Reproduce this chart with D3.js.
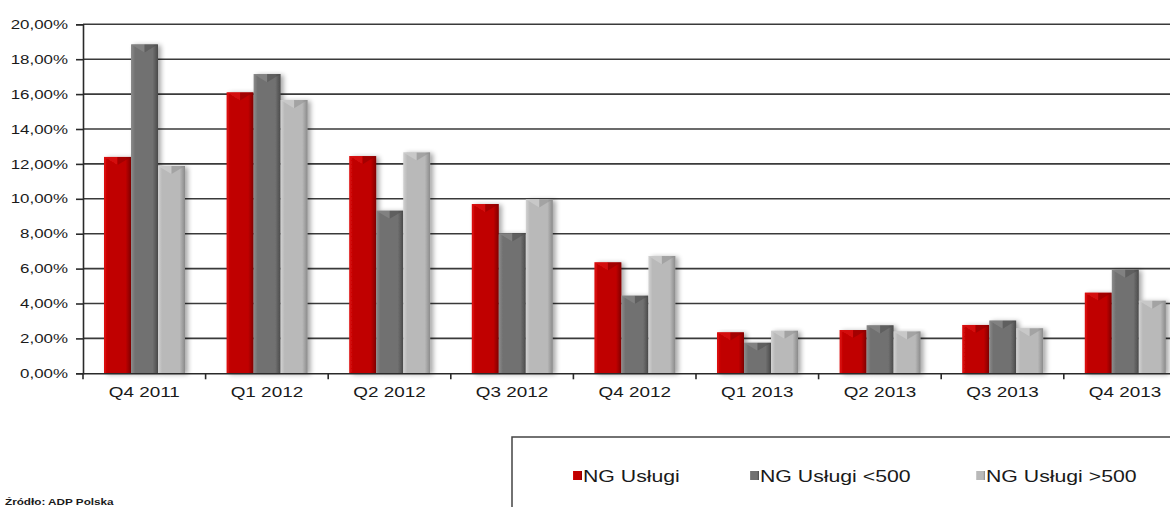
<html>
<head>
<meta charset="utf-8">
<script src="https://d3js.org/d3.v7.min.js"></script>
<style>
body { margin: 0; background: #fff; }
text { font-family: "Liberation Sans", Arial, sans-serif; fill: #1a1a1a; }
</style>
</head>
<body>
<svg width="1170" height="507"></svg>
<script>
// data
var categories = ["Q4 2011", "Q1 2012", "Q2 2012", "Q3 2012", "Q4 2012", "Q1 2013", "Q2 2013", "Q3 2013", "Q4 2013"];
var seriesNames = ["NG Usługi", "NG Usługi <500", "NG Usługi >500"];
var ngUslugi    = [12.4, 16.1, 12.45, 9.7, 6.36, 2.35, 2.48, 2.77, 4.62];
var ngUslugiLt  = [18.85, 17.15, 9.32, 8.02, 4.45, 1.75, 2.75, 3.02, 5.94];
var ngUslugiGt  = [11.88, 15.66, 12.66, 9.97, 6.72, 2.44, 2.4, 2.58, 4.16];
var yTicks = [0, 2, 4, 6, 8, 10, 12, 14, 16, 18, 20];

var allSeries = [ngUslugi, ngUslugiLt, ngUslugiGt];
var colors = [
  {mid: "#c00000", lt: "#e01010", dk: "#800000"},
  {mid: "#717171", lt: "#8c8c8c", dk: "#4a4a4a"},
  {mid: "#b9b9b9", lt: "#d2d2d2", dk: "#8a8a8a"}
];

// the source picture is stretched sideways, so widen text to match
function stretch(sel, k) {
  sel.each(function() {
    var w = this.getComputedTextLength();
    d3.select(this).attr("textLength", w * k).attr("lengthAdjust", "spacingAndGlyphs");
  });
}

var svg = d3.select("svg");
var defs = svg.append("defs");

// drop shadow for the bars
var f = defs.append("filter").attr("id", "shadow").attr("x", "-30%").attr("y", "-10%").attr("width", "170%").attr("height", "130%");
f.append("feGaussianBlur").attr("in", "SourceAlpha").attr("stdDeviation", 2.5);
f.append("feOffset").attr("dx", 3).attr("dy", 1).attr("result", "b");
f.append("feComponentTransfer").append("feFuncA").attr("type", "linear").attr("slope", 0.35);
var fm = f.append("feMerge");
fm.append("feMergeNode");
fm.append("feMergeNode").attr("in", "SourceGraphic");

colors.forEach(function(c, i) {
  var g = defs.append("linearGradient").attr("id", "grad" + i).attr("x1", 0).attr("x2", 1).attr("y1", 0).attr("y2", 0);
  g.append("stop").attr("offset", "0%").attr("stop-color", c.lt);
  g.append("stop").attr("offset", "15%").attr("stop-color", c.mid);
  g.append("stop").attr("offset", "80%").attr("stop-color", c.mid);
  g.append("stop").attr("offset", "100%").attr("stop-color", c.dk);
});

var x = d3.scaleBand().domain(categories).range([83, 83 + 9 * 122.6]);
var y = d3.scaleLinear().domain([0, 20]).range([373.3, 24.3]);
var sub = d3.scaleBand().domain([0, 1, 2]).range([21, 102]);

// gridlines
svg.append("g").selectAll("line").data(yTicks.slice(1)).join("line")
  .attr("x1", 83).attr("x2", 1170)
  .attr("y1", function(d) { return y(d); }).attr("y2", function(d) { return y(d); })
  .attr("stroke", "#3a3a3a").attr("stroke-width", 1.6);

// bars
var groups = svg.append("g").selectAll("g").data(categories).join("g")
  .attr("transform", function(d) { return "translate(" + x(d) + ",0)"; });

groups.each(function(cat, ci) {
  var g = d3.select(this);
  allSeries.forEach(function(vals, si) {
    var x0 = sub(si), w = sub.bandwidth(), top = y(vals[ci]), bot = y(0);
    var bar = g.append("g").attr("filter", "url(#shadow)");
    bar.append("rect").attr("x", x0).attr("y", top).attr("width", w).attr("height", bot - top)
      .attr("fill", "url(#grad" + si + ")");
    var bev = Math.min(w / 2, bot - top);
    bar.append("path")
      .attr("d", "M" + x0 + "," + top + "L" + (x0 + w / 2) + "," + (top + bev * 0.6) + "L" + (x0 + w / 2) + "," + top + "Z")
      .attr("fill", colors[si].lt).attr("opacity", 0.6);
    bar.append("path")
      .attr("d", "M" + (x0 + w / 2) + "," + (top + bev * 0.6) + "L" + (x0 + w) + "," + top + "L" + (x0 + w / 2) + "," + top + "Z")
      .attr("fill", colors[si].dk).attr("opacity", 0.45);
  });
});

// y axis
var yAxis = svg.append("g").attr("transform", "translate(83,0)")
  .call(d3.axisLeft(y).tickValues(yTicks).tickSize(7).tickPadding(8)
    .tickFormat(function(d) { return d3.format(".2f")(d).replace(".", ",") + "%"; }));
yAxis.select(".domain").attr("stroke", "#2a2a2a").attr("stroke-width", 1.6);
yAxis.selectAll(".tick line").attr("stroke", "#2a2a2a").attr("stroke-width", 1.6);
yAxis.selectAll("text").style("font-size", "13px").attr("fill", "#1a1a1a");
stretch(yAxis.selectAll("text"), 1.3);

// x axis
var xAxis = svg.append("g").attr("transform", "translate(0,373.3)")
  .call(d3.axisBottom(x).tickSize(0).tickPadding(14));
xAxis.select(".domain").attr("stroke", "#2a2a2a").attr("stroke-width", 1.6);
xAxis.selectAll("text").style("font-size", "14px").attr("fill", "#1a1a1a");
stretch(xAxis.selectAll("text"), 1.35);
xAxis.append("g").selectAll("line").data(categories).join("line")
  .attr("x1", function(d) { return x(d); }).attr("x2", function(d) { return x(d); })
  .attr("y1", 0).attr("y2", 6).attr("stroke", "#2a2a2a").attr("stroke-width", 1.6);

// legend
svg.append("rect").attr("x", 512).attr("y", 437).attr("width", 700).attr("height", 100)
  .attr("fill", "none").attr("stroke", "#444").attr("stroke-width", 1.5);
var legX = [572, 749, 975];
var leg = svg.append("g").selectAll("g").data(seriesNames).join("g")
  .attr("transform", function(d, i) { return "translate(" + legX[i] + ",0)"; });
leg.append("rect").attr("x", 1).attr("y", 471).attr("width", 9).attr("height", 9)
  .attr("fill", function(d, i) { return "url(#grad" + i + ")"; });
var legText = leg.append("text").attr("x", 11).attr("y", 482).style("font-size", "17px").text(function(d) { return d; });
stretch(legText, 1.25);

var src = svg.append("text").attr("x", 5).attr("y", 505).style("font-size", "9px").style("font-weight", "bold")
  .attr("fill", "#333").text("Źródło: ADP Polska");
stretch(src, 1.3);
</script>
</body>
</html>
